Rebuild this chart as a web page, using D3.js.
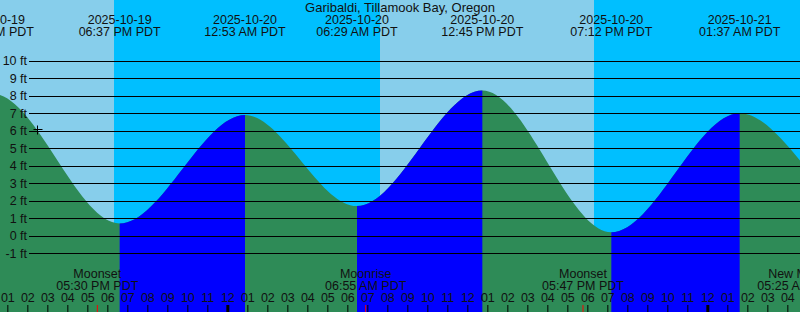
<!DOCTYPE html>
<html>
<head>
<meta charset="utf-8">
<script src="https://cdn.jsdelivr.net/npm/d3@7"></script>
<style>
  html, body { margin: 0; padding: 0; background: #fff; overflow: hidden; }
  svg { display: block; font-family: "Liberation Sans", Arial, sans-serif; }
  text { fill: #111; }
</style>
</head>
<body>
<div id="chart"></div>
<script>
var title = "Garibaldi, Tillamook Bay, Oregon";

// tide extremes (local PDT wall clock), heights in ft
var tideTimes = ["2025-10-19 06:00", "2025-10-19 12:17", "2025-10-19 18:37", "2025-10-20 00:53",
                 "2025-10-20 06:29", "2025-10-20 12:45", "2025-10-20 19:12", "2025-10-21 01:37",
                 "2025-10-21 08:05", "2025-10-21 14:00"];
var tideHeights = [0.9, 8.1, 0.7, 6.9, 1.7, 8.3, 0.2, 7.0, 1.0, 8.0];

// sun: day/night periods
var sunTimes = ["2025-10-19 12:38", "2025-10-19 18:20", "2025-10-20 07:38", "2025-10-20 18:20", "2025-10-21 04:38"];
var sunKinds = ["day", "night", "day", "night"];

// moon events
var moonTimes = ["2025-10-19 17:30", "2025-10-20 06:55", "2025-10-20 17:47", "2025-10-21 05:25"];
var moonNames = ["Moonset", "Moonrise", "Moonset", "New Moon"];

var nowMark = {time: "2025-10-19 14:30", height: 6.1};

var yTicks = [-1, 0, 1, 2, 3, 4, 5, 6, 7, 8, 9, 10];

var width = 800, height = 312;
// wall-clock times kept as UTC so the browser's zone cannot shift them
var parse = d3.utcParse("%Y-%m-%d %H:%M");
var fmtTime = d3.utcFormat("%I:%M %p PDT");

var x = d3.scaleUtc()
    .domain([parse("2025-10-19 12:38"), parse("2025-10-21 04:38")])
    .range([0, width]);
var y = d3.scaleLinear().domain([-1, 10]).range([253.3, 60.7]);

var tides = tideTimes.map(function (t, i) { return {t: parse(t), h: tideHeights[i]}; });

var svg = d3.select("#chart").append("svg")
    .attr("width", width)
    .attr("height", height);

// day / night background
var colors = {day: "#87CEEB", night: "#00BFFF"};
svg.append("g").selectAll("rect")
    .data(sunKinds)
    .join("rect")
    .attr("x", function (d, i) { return x(parse(sunTimes[i])); })
    .attr("width", function (d, i) { return x(parse(sunTimes[i + 1])) - x(parse(sunTimes[i])); })
    .attr("y", 0)
    .attr("height", height)
    .attr("fill", function (d) { return colors[d]; });

// water: green while falling, blue while rising
var area = d3.area()
    .x(function (d) { return x(d.t); })
    .y0(height)
    .y1(function (d) { return y(d.h); })
    .curve(d3.curveMonotoneX);

var rising = [];
for (var i = 0; i < tides.length - 1; i++) {
    if (tides[i + 1].h > tides[i].h) rising.push([tides[i].t, tides[i + 1].t]);
}
svg.append("clipPath").attr("id", "rise")
    .selectAll("rect").data(rising).join("rect")
    .attr("x", function (d) { return x(d[0]); })
    .attr("width", function (d) { return x(d[1]) - x(d[0]); })
    .attr("y", 0).attr("height", height);

svg.append("path").datum(tides).attr("d", area).attr("fill", "#2E8B57");
svg.append("path").datum(tides).attr("d", area).attr("fill", "#0000FF")
    .attr("clip-path", "url(#rise)");

// height grid
var yAxis = svg.append("g")
    .attr("transform", "translate(29,0)")
    .call(d3.axisLeft(y).tickValues(yTicks).tickSize(-(width - 29)).tickPadding(2)
        .tickFormat(function (d) { return d + " ft"; }));
yAxis.select(".domain").remove();
yAxis.selectAll("line").attr("stroke", "#000").attr("shape-rendering", "crispEdges");
yAxis.selectAll("text").attr("font-size", 12.5).attr("fill", "#111").attr("font-family", null);

// hour axis
var hours = d3.utcHour.range(x.domain()[0], x.domain()[1]);
var xAxis = svg.append("g")
    .attr("transform", "translate(0,305)")
    .call(d3.axisBottom(x).tickValues(hours).tickSize(7).tickFormat(d3.utcFormat("%I")));
xAxis.select(".domain").remove();
xAxis.selectAll("line").attr("stroke", "#000")
    .attr("stroke-width", function (d) { return d.getUTCHours() === 0 ? 3 : 1; });
xAxis.selectAll("text").attr("y", -3.5).attr("dy", null)
    .attr("font-size", 12.5).attr("fill", "#111").attr("font-family", null);

// moon events
var moonG = svg.append("g").selectAll("g")
    .data(moonNames)
    .join("g");
moonG.append("line")
    .attr("x1", function (d, i) { return x(parse(moonTimes[i])); })
    .attr("x2", function (d, i) { return x(parse(moonTimes[i])); })
    .attr("y1", 305).attr("y2", 312)
    .attr("stroke", "#ff0000");
var moonX = function (d, i) { return Math.min(x(parse(moonTimes[i])), width - 2); };
moonG.append("text")
    .attr("x", moonX).attr("y", 278.3)
    .attr("text-anchor", "middle").attr("font-size", 12.5)
    .text(function (d) { return d; });
moonG.append("text")
    .attr("x", moonX).attr("y", 290)
    .attr("text-anchor", "middle").attr("font-size", 12.5)
    .text(function (d, i) { return fmtTime(parse(moonTimes[i])); });

// tide labels
var labels = svg.append("g").selectAll("g")
    .data(tides.filter(function (d) { return x(d.t) > -60 && x(d.t) < width + 60; }))
    .join("g");
labels.append("text")
    .attr("x", function (d) { return x(d.t); }).attr("y", 24)
    .attr("text-anchor", "middle").attr("font-size", 12.5)
    .text(function (d) { return d3.utcFormat("%Y-%m-%d")(d.t); });
labels.append("text")
    .attr("x", function (d) { return x(d.t); }).attr("y", 36)
    .attr("text-anchor", "middle").attr("font-size", 12.5)
    .text(function (d) { return fmtTime(d.t); });

svg.append("text")
    .attr("x", width / 2).attr("y", 12)
    .attr("text-anchor", "middle").attr("font-size", 13)
    .text(title);

// current time marker
var nx = Math.round(x(parse(nowMark.time))) + 0.5, ny = Math.round(y(nowMark.height)) + 0.5;
svg.append("path")
    .attr("d", "M" + (nx - 4) + "," + ny + "H" + (nx + 5) + "M" + nx + "," + (ny - 4) + "V" + (ny + 5))
    .attr("stroke", "#000").attr("fill", "none");
</script>
</body>
</html>
